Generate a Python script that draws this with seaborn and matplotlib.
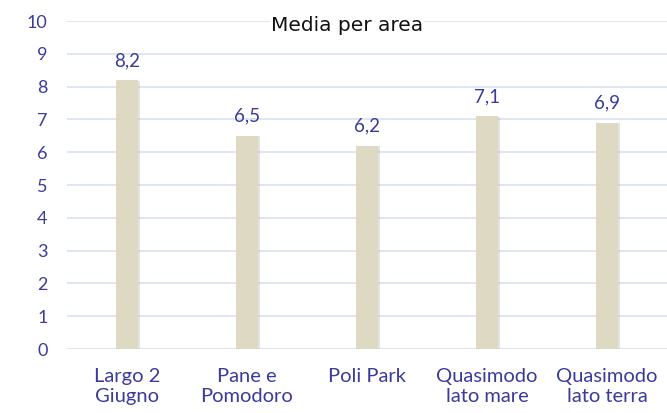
import matplotlib
matplotlib.use("Agg")
import matplotlib.pyplot as plt
import matplotlib.patheffects as pe
import seaborn as sns

# Data
areas = ["Largo 2\nGiugno", "Pane e\nPomodoro", "Poli Park", "Quasimodo\nlato mare", "Quasimodo\nlato terra"]
medie = [8.2, 6.5, 6.2, 7.1, 6.9]
y_ticks = list(range(0, 11))

text_blue = "#3b3b9b"
grid_col = "#d7e1ef"
bar_col = "#ddd9c3"

sns.set_theme(style="white")
plt.rcParams["font.family"] = ["Lato", "DejaVu Sans"]

fig = plt.figure(figsize=(6.67, 4.13), dpi=100)
ax = fig.add_axes([67 / 667, 1 - 349 / 413, 600 / 667, (349 - 21) / 413])

sns.barplot(x=areas, y=medie, color=bar_col, width=0.18, saturation=1, ax=ax, zorder=3)
for bar in ax.patches:
    bar.set_edgecolor("none")
    bar.set_path_effects([pe.SimplePatchShadow(offset=(1.5, -0.5), shadow_rgbFace="#b0b0b0", alpha=0.35), pe.Normal()])

# value labels with comma decimals
for i, v in enumerate(medie):
    ax.annotate(f"{v:.1f}".replace(".", ","), (i, v), xytext=(0, 8), textcoords="offset points",
                ha="center", va="bottom", color=text_blue, fontsize=13.5)

ax.set_ylim(0, 10)
ax.set_yticks(y_ticks)
ax.set_xlim(-0.5, len(areas) - 0.5)
ax.yaxis.grid(True, color=grid_col, linewidth=1.2, zorder=0)
ax.set_axisbelow(True)
for s in ax.spines.values():
    s.set_visible(False)
ax.tick_params(axis="both", length=0, labelcolor=text_blue)
ax.tick_params(axis="y", pad=14, labelsize=13)
ax.tick_params(axis="x", pad=14, labelsize=14.5)
ax.set_xticks(range(len(areas)))
ax.set_xticklabels(areas, linespacing=1.15, fontsize=14.5, color=text_blue)
ax.set_xlabel("")
ax.set_ylabel("")

fig.text(347 / 667, 1 - 31 / 413, "Media per area", ha="center", va="baseline",
         fontsize=14.5, color="#111111", family=["DejaVu Sans"],
         bbox=dict(facecolor="white", edgecolor="none", pad=1))

fig.savefig("out.png", dpi=100)
